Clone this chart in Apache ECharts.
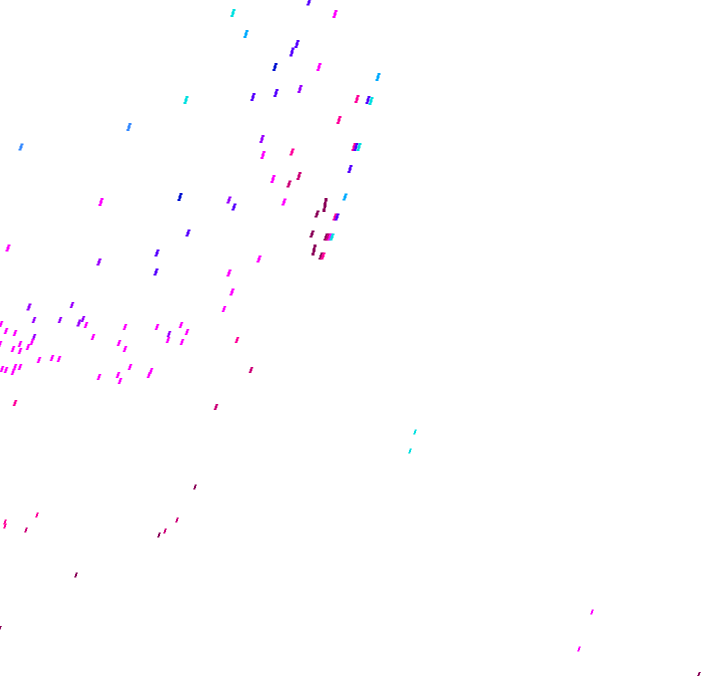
<!DOCTYPE html>
<html>
<head>
<meta charset="utf-8">
<script src="https://cdn.jsdelivr.net/npm/echarts@6/dist/echarts.min.js"></script>
<style>html,body{margin:0;padding:0;background:#fff}#c{width:720px;height:692px}</style>
</head>
<body>
<div id="c"></div>
<script>
var xVals = [233,309,335,246,292,297,275,319,378,253,276,300,357,368,371,186,129,21,339,262,354,356,359,263,292,350,273,289,299,229,234,284,345,325,317,335,337,312,326,328,330,332,314,321,323,259,229,180,101,188,8,99,157,156,232,224,181,187,182,237,251,216,29,72,34,60,79,83,86,1,6,15,34,32,28,20,20,13,39,52,59,2,6,15,20,13,93,119,125,125,130,99,118,120,157,169,168,151,149,15,195,37,5,5,26,177,165,159,76,0,415,410,592,579,699,0];
var yVals = [13,2,14,34,52,44,67,67,77,97,93,89,99,100,101,100,127,147,120,139,147,147,147,155,152,169,179,184,176,200,207,202,197,205,214,217,217,234,237,237,237,237,250,256,256,259,273,197,202,233,248,262,253,272,292,309,325,332,342,340,370,407,307,305,320,320,323,319,325,324,331,333,337,342,347,344,351,349,360,358,359,369,370,367,367,372,337,343,349,327,367,377,375,381,327,334,340,371,375,403,487,515,522,526,530,520,531,535,575,628,432,451,612,649,674,344];
var colorCodes = [0,4,6,1,4,4,3,6,1,4,4,5,7,4,0,0,2,2,7,5,7,4,0,6,7,4,6,8,8,5,4,6,1,9,9,7,4,9,9,8,6,0,9,9,7,6,6,3,6,4,6,5,4,4,6,6,6,6,6,7,8,8,5,5,5,5,5,5,6,6,6,6,5,6,6,6,6,6,6,6,6,6,6,6,6,6,6,6,6,6,6,6,6,6,6,5,6,6,6,7,9,7,7,7,8,8,8,9,9,9,0,0,6,6,9,6];
var markHeights = [8,7,8,8,9,8,8,8,8,8,8,8,8,8,8,8,8,7,8,8,8,8,8,8,7,8,8,7,8,7,7,7,7,14,7,7,7,7,7,7,7,7,11,7,7,7,7,8,8,7,7,7,7,7,7,6,6,6,6,6,6,6,7,6,6,6,7,6,6,6,6,6,6,6,6,6,6,6,6,6,6,6,6,6,6,6,6,6,6,6,6,6,6,6,6,6,6,6,6,6,5,5,5,5,5,5,5,5,5,4,5,5,5,5,4,6];
var palette = ['#00e0e0','#00aaff','#3388ff','#0010d0','#5500ff','#9900ff','#ff00ff','#ff0099','#cc0077','#880055'];

var data = xVals.map(function(x,i){ return [x, yVals[i], colorCodes[i], markHeights[i]]; });

var chart = echarts.init(document.getElementById('c'));
chart.setOption({
  backgroundColor:'#ffffff',
  animation:false,
  grid:{left:0,right:0,top:0,bottom:0},
  xAxis:{type:'value',min:0,max:720,show:false},
  yAxis:{type:'value',min:0,max:692,inverse:true,show:false},
  series:[{
    type:'scatter',
    symbol:'path://M2,0 L5,0 L5,2 L4,2 L4,5 L3,6 L3,8 L0,8 L0,6 L1,6 L1,3 L2,2 Z',
    symbolKeepAspect:false,
    symbolSize:function(v){ return [v[3] >= 7 ? 5 : (v[3] === 6 ? 4.5 : 3.5), v[3]]; },
    itemStyle:{color:function(p){ return palette[p.value[2]]; }, opacity:1},
    data:data
  }]
});
</script>
</body>
</html>
